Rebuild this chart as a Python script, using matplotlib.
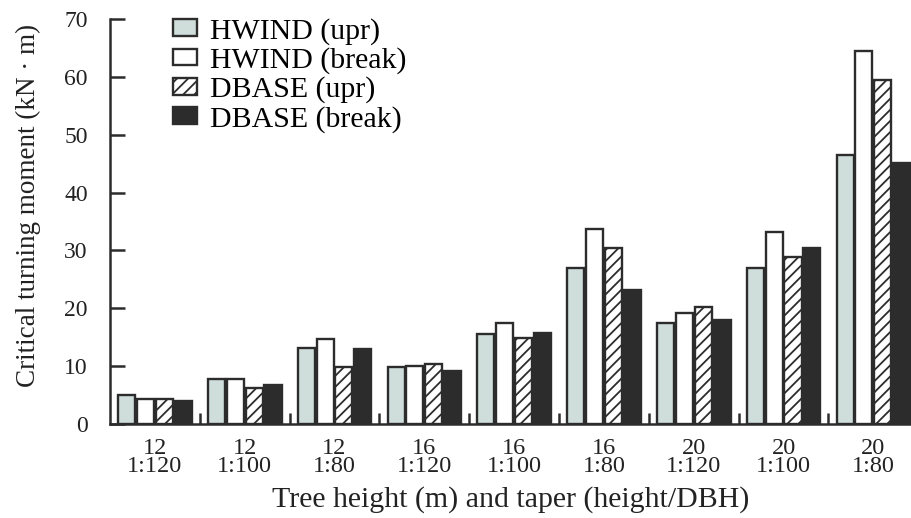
import numpy as np
import matplotlib
matplotlib.use("Agg")
import matplotlib.pyplot as plt

plt.rcParams['font.family'] = ['Liberation Serif', 'DejaVu Serif']
plt.rcParams['hatch.linewidth'] = 1.3

heights = ["12", "12", "12", "16", "16", "16", "20", "20", "20"]
tapers = ["1:120", "1:100", "1:80", "1:120", "1:100", "1:80", "1:120", "1:100", "1:80"]

series = ["HWIND (upr)", "HWIND (break)", "DBASE (upr)", "DBASE (break)"]
hwind_upr = [5.0, 7.7, 13.2, 9.8, 15.5, 27.0, 17.4, 26.9, 46.5]
hwind_break = [4.4, 7.7, 14.7, 10.0, 17.4, 33.7, 19.2, 33.1, 64.5]
dbase_upr = [4.4, 6.3, 9.8, 10.3, 14.8, 30.5, 20.2, 28.9, 59.4]
dbase_break = [4.0, 6.8, 13.0, 9.2, 15.7, 23.2, 17.9, 30.5, 45.1]

dark = '#2b2c2b'
fills = ['#cfdeda', 'white', 'white', dark]
hatches = [None, None, '///', None]

fig = plt.figure(figsize=(9.12, 5.18), dpi=100)
ax = fig.add_axes([0.1206, 0.1815, 0.8794, 0.7818])

x = np.arange(len(heights))
w = 0.19
pitch = 0.21
values = [hwind_upr, hwind_break, dbase_upr, dbase_break]
for k, vals in enumerate(values):
    ax.bar(x + (k - 1.5) * pitch, vals, width=w, color=fills[k],
           edgecolor=dark, linewidth=1.7, hatch=hatches[k], label=series[k])

ax.set_xlim(-0.5, 8.43)
ax.set_ylim(0, 70)
ax.set_yticks(range(0, 71, 10))

ax.set_xticks(x)
ax.set_xticklabels([h + "\n" + t for h, t in zip(heights, tapers)],
                   fontsize=17.5, linespacing=0.85)
ax.set_xticks(np.arange(0.5, 8.5, 1), minor=True)
ax.tick_params(axis='x', which='major', length=0, pad=10, colors='#222222')
ax.tick_params(axis='x', which='minor', direction='in', length=8, width=1.8, color=dark)
ax.tick_params(axis='y', direction='in', length=11, width=1.8, color=dark,
               labelsize=17, pad=16, labelcolor='#222222')

for s in ['top', 'right']:
    ax.spines[s].set_visible(False)
for s in ['left', 'bottom']:
    ax.spines[s].set_linewidth(1.8)
    ax.spines[s].set_color(dark)

ax.set_ylabel("Critical turning moment (kN · m)", fontsize=19.5, color='#222222')
ax.yaxis.set_label_coords(-0.086, 0.54)
ax.set_xlabel("Tree height (m) and taper (height/DBH)", fontsize=21.5, labelpad=6, color='#222222')

ax.legend(loc='upper left', bbox_to_anchor=(0.078, 1.003), frameon=False,
          fontsize=21.5, handlelength=0.82, handleheight=0.48, handletextpad=0.45,
          labelspacing=0.08, borderpad=0, borderaxespad=0)

fig.savefig("out.png", dpi=100)
